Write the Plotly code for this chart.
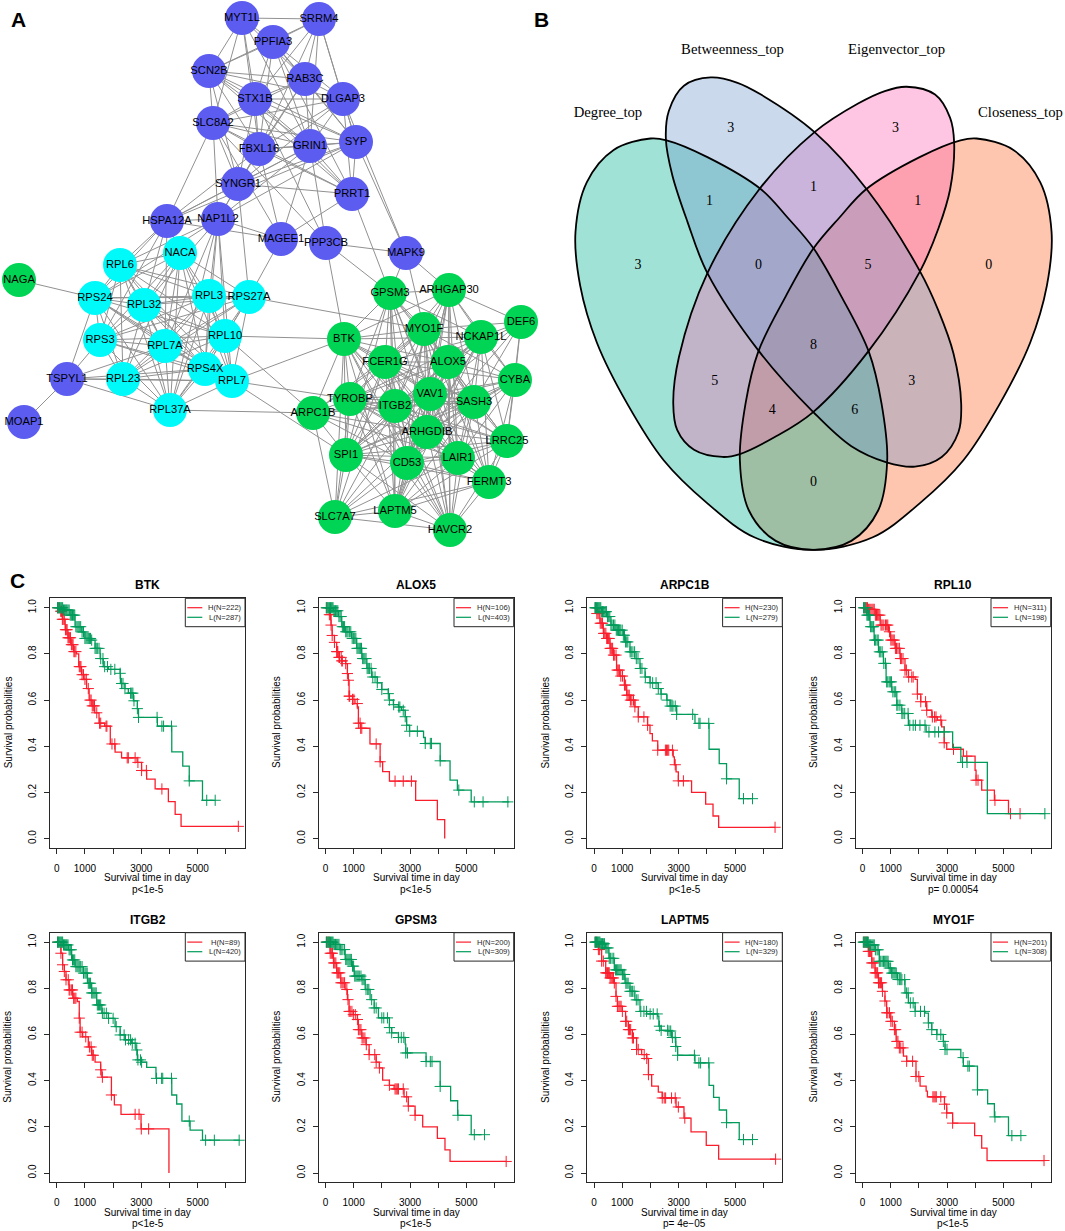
import plotly.graph_objects as go

# ---- panel A, network (page pixels)
genes_blue = ['MYT1L', 'SRRM4', 'PPFIA3', 'SCN2B', 'RAB3C', 'STX1B', 'DLGAP3', 'SLC8A2', 'FBXL16', 'GRIN1', 'SYP', 'SYNGR1', 'PRRT1', 'HSPA12A', 'NAP1L2', 'MAGEE1', 'PPP3CB', 'MAPK9', 'TSPYL1', 'MOAP1']
blue_x = [242, 319, 273, 209, 305, 255, 343, 213, 259, 310, 356, 238, 352, 167, 218, 281, 326, 406, 67, 24]
blue_y = [18, 19, 42, 71, 79, 99, 99, 123, 149, 146, 142, 184, 194, 221, 219, 239, 243, 253, 379, 422]

genes_cyan = ['NACA', 'RPL6', 'RPS24', 'RPL32', 'RPL3', 'RPS27A', 'RPL10', 'RPS3', 'RPL7A', 'RPS4X', 'RPL23', 'RPL7', 'RPL37A']
cyan_x = [180, 120, 95, 144, 209, 249, 225, 100, 165, 205, 123, 232, 170]
cyan_y = [253, 265, 298, 305, 296, 297, 336, 340, 346, 369, 379, 381, 410]

genes_green = ['NAGA', 'GPSM3', 'ARHGAP30', 'DEF6', 'MYO1F', 'NCKAP1L', 'BTK', 'FCER1G', 'ALOX5', 'CYBA', 'VAV1', 'TYROBP', 'ITGB2', 'SASH3', 'ARPC1B', 'ARHGDIB', 'LRRC25', 'SPI1', 'LAIR1', 'CD53', 'FERMT3', 'SLC7A7', 'LAPTM5', 'HAVCR2']
green_x = [19, 390, 449, 521, 424, 481, 344, 385, 448, 515, 430, 350, 395, 474, 313, 427, 507, 346, 458, 407, 489, 335, 395, 450]
green_y = [280, 293, 290, 322, 329, 337, 339, 362, 362, 380, 394, 399, 406, 402, 413, 432, 441, 455, 458, 463, 482, 517, 511, 530]

# first gene of each row is joined to the others in the row
edges_blue = [
	'MYT1L SRRM4 PPFIA3 SCN2B STX1B RAB3C SLC8A2 FBXL16 GRIN1',
	'SRRM4 PPFIA3 SCN2B STX1B RAB3C DLGAP3 FBXL16 SYP GRIN1',
	'PPFIA3 SCN2B RAB3C STX1B DLGAP3 FBXL16 GRIN1 SYP PRRT1',
	'SCN2B RAB3C STX1B DLGAP3 SLC8A2 FBXL16 GRIN1 SYP SYNGR1 PRRT1',
	'RAB3C STX1B DLGAP3 SLC8A2 FBXL16 GRIN1 SYP SYNGR1',
	'STX1B DLGAP3 SLC8A2 FBXL16 GRIN1 SYP SYNGR1 PRRT1 PPP3CB',
	'DLGAP3 SLC8A2 FBXL16 GRIN1 SYP SYNGR1 PRRT1 MAPK9',
	'SLC8A2 FBXL16 GRIN1 SYP SYNGR1 PRRT1 HSPA12A NAP1L2 MAGEE1 PPP3CB',
	'FBXL16 GRIN1 SYP SYNGR1 PRRT1 HSPA12A NAP1L2 MAGEE1',
	'GRIN1 SYP SYNGR1 PRRT1 NAP1L2 HSPA12A MAGEE1 PPP3CB',
	'SYP SYNGR1 PRRT1 MAPK9 HSPA12A NAP1L2',
	'SYNGR1 PRRT1 HSPA12A NAP1L2 RPS27A',
	'PRRT1 MAGEE1 GPSM3',
	'HSPA12A NAP1L2 MAGEE1 RPL6 RPS24 RPL32 RPS3 RPL7A NACA',
	'NAP1L2 MAGEE1 RPL6 RPS24 RPL32 RPL3 RPL7A RPL10 RPS4X RPL7 RPL37A',
	'MAGEE1 RPS27A',
	'PPP3CB MAPK9 GPSM3 BTK',
	'MAPK9 GPSM3 ARHGAP30 MYO1F',
	'TSPYL1 MOAP1 RPS24 RPS3 RPL7A RPL23 RPS4X RPL7 RPL37A',
]
edges_cyan = [
	'NACA RPL6 RPS24 RPL32 RPL3 RPS27A RPS3 RPL7A RPL10 RPS4X RPL23 RPL7 RPL37A',
	'RPL6 RPS24 RPL32 RPL3 RPS27A RPS3 RPL7A RPL10 RPS4X RPL23 RPL7 RPL37A',
	'RPS24 RPL32 RPL3 RPS27A RPS3 RPL7A RPL10 RPS4X RPL23 RPL7 RPL37A NAGA',
	'RPL32 RPL3 RPS27A RPS3 RPL7A RPL10 RPS4X RPL23 RPL7 RPL37A',
	'RPL3 RPS27A RPS3 RPL7A RPL10 RPS4X RPL23 RPL7 RPL37A',
	'RPS27A RPS3 RPL7A RPL10 RPS4X RPL23 RPL7 RPL37A MYO1F',
	'RPL10 RPS3 RPL7A RPS4X RPL23 RPL7 RPL37A BTK ARPC1B',
	'RPS3 RPL7A RPS4X RPL23 RPL7 RPL37A',
	'RPL7A RPS4X RPL23 RPL7 RPL37A',
	'RPS4X RPL23 RPL7 RPL37A',
	'RPL23 RPL7 RPL37A',
	'RPL7 RPL37A BTK TYROBP SPI1',
	'RPL37A ARPC1B',
]
edges_green = [
	'GPSM3 ARHGAP30 MYO1F NCKAP1L BTK FCER1G ALOX5 VAV1 TYROBP ITGB2 SASH3 ARHGDIB SPI1 LAIR1 CD53 LAPTM5',
	'ARHGAP30 DEF6 MYO1F NCKAP1L BTK FCER1G ALOX5 CYBA VAV1 ITGB2 SASH3 ARHGDIB LAIR1 CD53 LAPTM5 HAVCR2',
	'DEF6 MYO1F NCKAP1L ALOX5 CYBA VAV1 SASH3 ARHGDIB LRRC25',
	'MYO1F NCKAP1L BTK FCER1G ALOX5 CYBA VAV1 TYROBP ITGB2 SASH3 ARPC1B ARHGDIB LRRC25 SPI1 LAIR1 CD53 FERMT3 LAPTM5 HAVCR2',
	'NCKAP1L BTK FCER1G ALOX5 CYBA VAV1 TYROBP ITGB2 SASH3 ARHGDIB LRRC25 SPI1 LAIR1 CD53 FERMT3 LAPTM5',
	'BTK FCER1G ALOX5 VAV1 TYROBP ITGB2 SASH3 ARPC1B ARHGDIB SPI1 LAIR1 CD53 LAPTM5 SLC7A7 HAVCR2',
	'FCER1G ALOX5 CYBA VAV1 TYROBP ITGB2 SASH3 ARPC1B ARHGDIB LRRC25 SPI1 LAIR1 CD53 FERMT3 SLC7A7 LAPTM5 HAVCR2',
	'ALOX5 CYBA VAV1 TYROBP ITGB2 SASH3 ARHGDIB LRRC25 SPI1 LAIR1 CD53 FERMT3 LAPTM5 HAVCR2',
	'CYBA VAV1 ITGB2 SASH3 ARHGDIB LRRC25 SPI1 LAIR1 CD53 FERMT3',
	'VAV1 TYROBP ITGB2 SASH3 ARPC1B ARHGDIB LRRC25 SPI1 LAIR1 CD53 FERMT3 SLC7A7 LAPTM5 HAVCR2',
	'TYROBP ITGB2 SASH3 ARPC1B ARHGDIB LRRC25 SPI1 LAIR1 CD53 FERMT3 SLC7A7 LAPTM5 HAVCR2',
	'ITGB2 SASH3 ARPC1B ARHGDIB LRRC25 SPI1 LAIR1 CD53 FERMT3 SLC7A7 LAPTM5 HAVCR2',
	'SASH3 ARPC1B ARHGDIB LRRC25 SPI1 LAIR1 CD53 FERMT3 LAPTM5 HAVCR2',
	'ARPC1B ARHGDIB SPI1 CD53 LAIR1 SLC7A7',
	'ARHGDIB LRRC25 SPI1 LAIR1 CD53 FERMT3 SLC7A7 LAPTM5 HAVCR2',
	'LRRC25 SPI1 LAIR1 CD53 FERMT3 LAPTM5 HAVCR2',
	'SPI1 LAIR1 CD53 FERMT3 SLC7A7 LAPTM5 HAVCR2',
	'LAIR1 CD53 FERMT3 SLC7A7 LAPTM5 HAVCR2',
	'CD53 FERMT3 SLC7A7 LAPTM5 HAVCR2',
	'FERMT3 SLC7A7 LAPTM5 HAVCR2',
	'SLC7A7 LAPTM5 HAVCR2',
	'LAPTM5 HAVCR2',
]

# ---- panel B, outlines traced on the zoomed crop of the venn
green_loop_x = [660, 500, 378, 330, 220, 140, 106, 120, 170, 260, 370, 500, 640, 815, 930, 1010, 1037, 1020, 982, 900, 818, 740, 660]
green_loop_y = [530, 440, 393, 388, 420, 510, 650, 800, 960, 1130, 1290, 1410, 1505, 1540, 1515, 1430, 1290, 1130, 985, 830, 697, 610, 530]
blue_loop_x = [660, 590, 510, 430, 385, 376, 395, 440, 500, 655, 817, 930, 1035, 1120, 1200, 1250, 1258, 1235, 1190, 1135, 980, 820, 660]
blue_loop_y = [265, 232, 217, 240, 310, 390, 490, 620, 765, 985, 1155, 1250, 1295, 1307, 1280, 1210, 1130, 990, 870, 760, 535, 370, 265]
pink_loop_x = [950, 1030, 1095, 1180, 1225, 1237, 1225, 1190, 1135, 980, 815, 700, 597, 545, 460, 410, 398, 415, 500, 655, 820, 950]
pink_loop_y = [290, 255, 243, 265, 330, 400, 530, 640, 760, 985, 1155, 1225, 1272, 1280, 1260, 1205, 1130, 1000, 765, 530, 370, 290]
orange_loop_x = [974, 1134, 1256, 1304, 1414, 1494, 1528, 1514, 1464, 1374, 1264, 1134, 994, 819, 704, 624, 597, 614, 652, 734, 816, 894, 974]
orange_loop_y = [530, 440, 393, 388, 420, 510, 650, 800, 960, 1130, 1290, 1410, 1505, 1540, 1515, 1430, 1290, 1130, 985, 830, 697, 610, 530]

venn_names = ['Degree_top', 'Betweenness_top', 'Eigenvector_top', 'Closeness_top']
venn_name_x = [203, 575, 1065, 1435]
venn_name_y = [318, 140, 140, 318]
venn_counts = [3, 3, 3, 0, 1, 1, 1, 0, 5, 5, 8, 3, 4, 6, 0]
venn_count_x = [293, 570, 1062, 1340, 506, 817, 1128, 653, 980, 522, 817, 1110, 694, 940, 817]
venn_count_y = [745, 360, 360, 745, 565, 525, 565, 745, 745, 1070, 967, 1070, 1150, 1150, 1352]

# ---- panel C, survival curves: step vertices (t, s) and censor times
btk_h_t = [0, 100, 200, 300, 400, 500, 600, 700, 780, 880, 960, 1060, 1150, 1250, 1350, 1500, 1700, 1900, 1950, 2070, 2300, 2850, 3010, 3190, 3490, 3960, 4200, 4410, 6440]
btk_h_s = [1, .985, .95, .905, .87, .84, .81, .80, .745, .71, .69, .65, .60, .575, .545, .50, .487, .41, .41, .375, .35, .33, .295, .258, .215, .16, .105, .053, .053]
btk_h_c = [40, 90, 140, 170, 200, 230, 270, 310, 340, 370, 400, 430, 460, 490, 520, 550, 580, 610, 640, 680, 800, 830, 860, 900, 950, 1000, 1050, 1120, 1180, 1220, 1260, 1300, 1340, 1420, 1520, 1560, 1750, 1780, 1960, 2060, 2500, 2540, 2780, 2880, 3010, 3180, 3730, 6440]
btk_l_t = [0, 240, 470, 650, 890, 1000, 1240, 1360, 1540, 1650, 1830, 2250, 2260, 2420, 2540, 2720, 2860, 2900, 3570, 4080, 4470, 4700, 5170, 5610]
btk_l_s = [1, .99, .968, .918, .895, .867, .86, .824, .78, .745, .733, .716, .672, .65, .63, .597, .563, .525, .487, .376, .314, .25, .166, .166]
btk_l_c = [30, 60, 90, 120, 150, 180, 210, 240, 270, 300, 330, 360, 400, 440, 480, 520, 560, 600, 640, 680, 720, 760, 800, 850, 900, 950, 1000, 1040, 1080, 1120, 1160, 1200, 1240, 1360, 1400, 1440, 1500, 1560, 1640, 1700, 1800, 1920, 2060, 2250, 2300, 2350, 2420, 2620, 2660, 2700, 2740, 2860, 2900, 3560, 3730, 3790, 4070, 4700, 5320, 5620]

alox5_h_t = [0, 140, 200, 240, 320, 400, 480, 580, 720, 780, 815, 840, 960, 1050, 1135, 1170, 1250, 1580, 1940, 2030, 2270, 3200, 3970, 4230, 4230]
alox5_h_s = [1, .97, .925, .88, .85, .81, .785, .77, .758, .715, .686, .617, .603, .585, .571, .50, .478, .41, .333, .29, .249, .166, .082, .082, 0]
alox5_h_c = [50, 140, 180, 200, 240, 320, 400, 420, 440, 480, 500, 560, 580, 600, 720, 780, 815, 840, 860, 960, 1010, 1130, 1170, 1230, 1250, 1290, 1800, 1940, 2470, 2760, 3050]
alox5_l_t = [0, 280, 460, 580, 700, 930, 1110, 1290, 1470, 1640, 1840, 2000, 2230, 2270, 2410, 2590, 2700, 2830, 2880, 2980, 3480, 3540, 4070, 4420, 4680, 5170, 6520]
alox5_l_s = [1, .987, .962, .918, .896, .867, .824, .78, .737, .70, .675, .646, .628, .60, .58, .57, .556, .528, .491, .465, .438, .412, .337, .253, .21, .159, .159]
alox5_l_c = [30, 60, 90, 120, 150, 180, 210, 240, 270, 300, 330, 360, 400, 440, 480, 520, 560, 600, 640, 680, 720, 760, 800, 850, 900, 950, 1000, 1040, 1080, 1120, 1160, 1200, 1240, 1280, 1320, 1360, 1400, 1440, 1480, 1520, 1560, 1620, 1680, 1760, 1840, 2000, 2230, 2270, 2420, 2600, 2640, 2760, 2830, 2880, 2990, 3260, 3540, 3720, 3760, 4070, 4730, 5280, 5590, 6470]

arpc1b_h_t = [0, 95, 210, 330, 450, 570, 685, 800, 920, 1075, 1160, 1275, 1450, 1570, 1900, 1985, 2070, 2260, 2810, 2850, 2910, 2990, 3170, 3460, 3960, 4220, 4420, 6420]
arpc1b_h_s = [1, .975, .933, .889, .867, .824, .795, .73, .704, .665, .621, .60, .571, .527, .491, .455, .423, .383, .354, .32, .289, .25, .25, .20, .149, .098, .049, .049]
arpc1b_h_c = [60, 100, 140, 180, 220, 260, 300, 340, 380, 420, 450, 480, 510, 540, 570, 600, 630, 660, 690, 720, 780, 820, 860, 900, 950, 1010, 1080, 1120, 1170, 1210, 1250, 1290, 1340, 1400, 1450, 1570, 1770, 1900, 2260, 2530, 2570, 2610, 2650, 2780, 2880, 2990, 3170, 6420]
arpc1b_l_t = [0, 270, 450, 600, 745, 1040, 1100, 1275, 1450, 1630, 1810, 1985, 2280, 2375, 2580, 2700, 2930, 3580, 4080, 4440, 4700, 5150, 5590]
arpc1b_l_s = [1, .983, .962, .925, .903, .881, .852, .809, .78, .737, .70, .675, .65, .626, .60, .574, .538, .499, .387, .325, .259, .173, .173]
arpc1b_l_c = [30, 60, 90, 120, 150, 180, 210, 240, 270, 300, 330, 360, 400, 440, 480, 520, 560, 600, 640, 690, 740, 790, 830, 870, 910, 950, 1000, 1040, 1080, 1120, 1160, 1200, 1280, 1320, 1380, 1440, 1500, 1560, 1640, 1700, 1820, 1990, 2080, 2200, 2280, 2380, 2590, 2700, 2760, 2800, 2880, 2930, 3500, 3720, 3760, 4070, 4700, 5300, 5620]

rpl10_h_t = [0, 210, 450, 630, 920, 1000, 1160, 1335, 1510, 1630, 1870, 1950, 2070, 2280, 2460, 2660, 2810, 2900, 2990, 3580, 3995, 4030, 4230, 4680, 5180, 5590]
rpl10_h_s = [1, .993, .968, .925, .896, .86, .824, .78, .73, .70, .69, .626, .593, .556, .527, .513, .484, .415, .387, .357, .296, .253, .21, .166, .108, .108]
rpl10_h_c = [60, 100, 140, 180, 220, 260, 300, 340, 380, 420, 460, 500, 540, 580, 620, 660, 700, 760, 820, 860, 900, 960, 1010, 1050, 1090, 1130, 1170, 1210, 1260, 1310, 1350, 1390, 1440, 1510, 1560, 1640, 1750, 1800, 1950, 2070, 2240, 2280, 2480, 2560, 2610, 2780, 2900, 3230, 3700, 4030, 4100, 4700, 5250, 5590]
rpl10_l_t = [0, 155, 270, 415, 570, 745, 840, 1040, 1220, 1395, 1630, 2260, 3200, 3490, 4430, 6480]
rpl10_l_s = [1, .968, .918, .86, .809, .759, .679, .636, .578, .542, .491, .462, .395, .33, .108, .108]
rpl10_l_c = [40, 80, 120, 160, 190, 220, 250, 290, 330, 370, 400, 430, 470, 520, 560, 600, 650, 700, 760, 820, 860, 900, 950, 990, 1030, 1080, 1130, 1180, 1220, 1260, 1330, 1400, 1440, 1500, 1620, 1680, 1800, 1880, 2040, 2220, 2360, 2570, 2700, 2900, 3550, 3710, 6470]

itgb2_h_t = [0, 150, 210, 270, 330, 440, 570, 730, 800, 830, 920, 1120, 1240, 1360, 1560, 1600, 1940, 2045, 2280, 2990, 3980, 3980]
itgb2_h_s = [1, .952, .902, .873, .837, .793, .757, .743, .671, .61, .59, .546, .51, .48, .447, .415, .338, .295, .254, .191, .191, 0]
itgb2_h_c = [40, 150, 210, 270, 330, 410, 440, 470, 530, 560, 600, 640, 680, 800, 830, 900, 1030, 1160, 1220, 1260, 1300, 1560, 1620, 1940, 2780, 2920, 3000, 3260]
itgb2_l_t = [0, 240, 410, 530, 650, 945, 1090, 1240, 1420, 1600, 1830, 2070, 2250, 2420, 2660, 2810, 2860, 3010, 3190, 3520, 4080, 4255, 4440, 4730, 5170, 6500]
itgb2_l_s = [1, .988, .967, .923, .894, .866, .822, .78, .728, .692, .67, .634, .598, .577, .562, .533, .49, .48, .458, .41, .338, .299, .225, .186, .142, .142]
itgb2_l_c = [30, 60, 90, 120, 150, 180, 210, 240, 270, 300, 330, 360, 400, 440, 480, 520, 560, 600, 640, 680, 720, 760, 800, 850, 900, 950, 1000, 1040, 1080, 1120, 1160, 1200, 1240, 1280, 1320, 1360, 1400, 1440, 1480, 1520, 1560, 1620, 1680, 1760, 1840, 2000, 2110, 2250, 2390, 2440, 2550, 2620, 2680, 2780, 2840, 2880, 2970, 3010, 3540, 3720, 3760, 4070, 4700, 5280, 5590, 6470]

gpsm3_h_t = [0, 165, 285, 400, 545, 700, 780, 840, 990, 1135, 1170, 1290, 1440, 1550, 1800, 1915, 2030, 2270, 2435, 2790, 2880, 2940, 3180, 3450, 3970, 4240, 4420, 6410]
gpsm3_h_s = [1, .952, .91, .867, .824, .795, .751, .70, .686, .665, .621, .585, .556, .513, .48, .455, .402, .38, .364, .33, .33, .29, .25, .20, .15, .10, .05, .05]
gpsm3_h_c = [40, 90, 130, 170, 210, 250, 290, 330, 370, 410, 440, 470, 510, 550, 590, 630, 680, 760, 800, 840, 880, 940, 990, 1060, 1135, 1170, 1220, 1260, 1300, 1340, 1400, 1450, 1550, 1750, 1800, 1915, 2270, 2470, 2510, 2550, 2590, 2760, 2880, 2940, 3180, 6410]
gpsm3_l_t = [0, 280, 520, 700, 930, 1020, 1290, 1410, 1585, 1730, 1880, 2270, 2350, 2590, 2830, 2850, 3570, 4070, 4440, 4690, 5170, 5540]
gpsm3_l_s = [1, .99, .968, .925, .896, .853, .838, .795, .751, .715, .672, .63, .607, .587, .558, .52, .483, .375, .313, .25, .166, .166]
gpsm3_l_c = [30, 60, 90, 120, 150, 180, 210, 240, 270, 300, 330, 360, 400, 440, 480, 520, 560, 620, 680, 720, 760, 800, 840, 880, 920, 960, 1000, 1040, 1080, 1120, 1160, 1200, 1260, 1300, 1340, 1400, 1440, 1500, 1540, 1640, 1730, 1800, 2000, 2070, 2200, 2270, 2350, 2590, 2690, 2780, 2850, 2910, 3570, 3720, 3780, 4070, 4700, 5280, 5640]

laptm5_h_t = [0, 155, 270, 415, 570, 720, 780, 830, 1005, 1120, 1220, 1360, 1510, 1690, 1870, 1930, 2045, 2280, 2420, 2910, 3190, 3440, 3980, 4420, 6440]
laptm5_h_s = [1, .968, .918, .867, .845, .823, .765, .722, .70, .657, .621, .585, .535, .513, .496, .426, .376, .35, .325, .286, .238, .178, .12, .06, .06]
laptm5_h_c = [50, 100, 155, 200, 270, 330, 415, 450, 480, 510, 540, 570, 610, 650, 690, 720, 780, 830, 880, 920, 960, 1005, 1120, 1160, 1220, 1260, 1300, 1360, 1400, 1510, 1570, 1780, 1870, 1930, 2420, 2490, 2540, 2750, 2880, 2990, 3220, 6440]
laptm5_l_t = [0, 215, 415, 530, 720, 1005, 1100, 1275, 1450, 1630, 1870, 2260, 2300, 2380, 2640, 2750, 2900, 2965, 3580, 4080, 4240, 4440, 4700, 5150, 5590]
laptm5_l_s = [1, .993, .975, .93, .88, .86, .822, .787, .75, .70, .689, .68, .636, .618, .615, .587, .548, .51, .477, .38, .328, .273, .218, .145, .145]
laptm5_l_c = [30, 60, 90, 120, 150, 180, 210, 240, 270, 300, 330, 370, 420, 460, 500, 540, 580, 640, 700, 760, 800, 840, 880, 920, 960, 1005, 1040, 1090, 1130, 1170, 1210, 1275, 1320, 1360, 1420, 1500, 1560, 1660, 1770, 1860, 1990, 2100, 2240, 2320, 2380, 2610, 2660, 2720, 2780, 2880, 2900, 2965, 3560, 3720, 3780, 4070, 4700, 5300, 5620]

myo1f_h_t = [0, 210, 330, 450, 570, 710, 800, 860, 1005, 1135, 1195, 1310, 1455, 1570, 1900, 2045, 2260, 2305, 2910, 2990, 3200, 3980, 4230, 4420, 6440]
myo1f_h_s = [1, .96, .91, .867, .824, .787, .745, .694, .657, .621, .57, .542, .506, .484, .418, .376, .355, .33, .298, .26, .216, .162, .108, .054, .054]
myo1f_h_c = [50, 90, 130, 170, 210, 250, 290, 330, 370, 410, 450, 480, 510, 540, 570, 600, 640, 680, 710, 800, 860, 900, 960, 1010, 1060, 1135, 1180, 1220, 1260, 1310, 1360, 1440, 1570, 1780, 1900, 2000, 2500, 2540, 2580, 2620, 2780, 2910, 2990, 3200, 6440]
myo1f_l_t = [0, 215, 450, 600, 920, 1040, 1240, 1510, 1630, 1870, 2220, 2340, 2460, 2640, 2870, 2930, 3490, 3580, 4080, 4440, 4680, 5180, 5590]
myo1f_l_s = [1, .988, .967, .917, .888, .866, .838, .78, .737, .70, .693, .65, .621, .60, .57, .535, .50, .463, .36, .30, .243, .162, .162]
myo1f_l_c = [30, 60, 90, 120, 150, 180, 210, 240, 270, 300, 340, 380, 420, 460, 520, 560, 600, 650, 700, 750, 790, 830, 870, 910, 950, 1000, 1040, 1080, 1120, 1160, 1200, 1260, 1320, 1360, 1400, 1500, 1560, 1620, 1700, 1800, 1870, 2060, 2200, 2340, 2460, 2640, 2780, 2870, 2930, 3000, 3570, 3740, 3790, 4080, 4700, 5300, 5620]

titles = ['BTK', 'ALOX5', 'ARPC1B', 'RPL10', 'ITGB2', 'GPSM3', 'LAPTM5', 'MYO1F']
high_labels = ['H(N=222)', 'H(N=106)', 'H(N=230)', 'H(N=311)', 'H(N=89)', 'H(N=200)', 'H(N=180)', 'H(N=201)']
low_labels = ['L(N=287)', 'L(N=403)', 'L(N=279)', 'L(N=198)', 'L(N=420)', 'L(N=309)', 'L(N=329)', 'L(N=308)']
p_labels = ['p<1e-5', 'p<1e-5', 'p<1e-5', 'p= 0.00054', 'p<1e-5', 'p<1e-5', 'p= 4e\u221205', 'p<1e-5']

curves = [
	(btk_h_t, btk_h_s, btk_h_c, btk_l_t, btk_l_s, btk_l_c),
	(alox5_h_t, alox5_h_s, alox5_h_c, alox5_l_t, alox5_l_s, alox5_l_c),
	(arpc1b_h_t, arpc1b_h_s, arpc1b_h_c, arpc1b_l_t, arpc1b_l_s, arpc1b_l_c),
	(rpl10_h_t, rpl10_h_s, rpl10_h_c, rpl10_l_t, rpl10_l_s, rpl10_l_c),
	(itgb2_h_t, itgb2_h_s, itgb2_h_c, itgb2_l_t, itgb2_l_s, itgb2_l_c),
	(gpsm3_h_t, gpsm3_h_s, gpsm3_h_c, gpsm3_l_t, gpsm3_l_s, gpsm3_l_c),
	(laptm5_h_t, laptm5_h_s, laptm5_h_c, laptm5_l_t, laptm5_l_s, laptm5_l_c),
	(myo1f_h_t, myo1f_h_s, myo1f_h_c, myo1f_l_t, myo1f_l_s, myo1f_l_c),
]

W, H = 1065, 1231
SANS = 'Liberation Sans'
SERIF = 'Liberation Serif'
RED = 'rgb(250,30,45)'
GREEN = 'rgb(0,155,90)'

box_left = [50, 318.7, 587.3, 855.7]
box_top = [598.3, 932.7]
BOX_W, BOX_H = 195, 249.3


# the venn crop came back scaled differently in x and y
def venn_x(v):
	return [540 + i * 0.3348 for i in v]


def venn_y(v):
	return [i * 0.357 for i in v]


def step_at(t, ts, ss):
	s = ss[0]
	for a, b in zip(ts, ss):
		if a <= t:
			s = b
	return s


fig = go.Figure()

# network edges first so the nodes sit on top
pos = {}
for names, xs, ys in [(genes_blue, blue_x, blue_y), (genes_cyan, cyan_x, cyan_y), (genes_green, green_x, green_y)]:
	for n, a, b in zip(names, xs, ys):
		pos[n] = (a, b)

edge_x, edge_y = [], []
for row in edges_blue + edges_cyan + edges_green:
	first, *others = row.split()
	for other in others:
		edge_x += [pos[first][0], pos[other][0], None]
		edge_y += [pos[first][1], pos[other][1], None]
fig.add_trace(go.Scatter(x = edge_x, y = edge_y, mode = 'lines', line = dict(color = 'rgb(145,145,145)', width = 1), hoverinfo = 'skip'))

for names, xs, ys, col in [(genes_blue, blue_x, blue_y, 'rgb(92,92,240)'), (genes_cyan, cyan_x, cyan_y, 'rgb(0,250,250)'), (genes_green, green_x, green_y, 'rgb(0,212,85)')]:
	fig.add_trace(go.Scatter(x = xs, y = ys, mode = 'markers', marker = dict(size = 34, color = col, line = dict(width = 0))))
for names, xs, ys in [(genes_blue, blue_x, blue_y), (genes_cyan, cyan_x, cyan_y), (genes_green, green_x, green_y)]:
	fig.add_trace(go.Scatter(x = xs, y = ys, mode = 'text', text = names, textposition = 'middle center', textfont = dict(family = SANS, size = 11.2, color = 'black')))

# venn fills, then the outlines over them. fill order picked from the overlap colours
loops = [
	(orange_loop_x, orange_loop_y, 'rgba(252,110,55,0.4)'),
	(green_loop_x, green_loop_y, 'rgba(17,182,150,0.4)'),
	(pink_loop_x, pink_loop_y, 'rgba(252,97,177,0.36)'),
	(blue_loop_x, blue_loop_y, 'rgba(110,150,205,0.36)'),
]
for lx, ly, col in loops:
	fig.add_trace(go.Scatter(x = venn_x(lx), y = venn_y(ly), mode = 'lines', fill = 'toself', fillcolor = col, line = dict(shape = 'spline', width = 0, color = 'rgba(0,0,0,0)'), hoverinfo = 'skip'))
for lx, ly, col in loops:
	fig.add_trace(go.Scatter(x = venn_x(lx), y = venn_y(ly), mode = 'lines', line = dict(shape = 'spline', width = 1.8, color = 'black'), hoverinfo = 'skip'))
fig.add_trace(go.Scatter(x = venn_x(venn_name_x), y = venn_y(venn_name_y), mode = 'text', text = venn_names, textfont = dict(family = SERIF, size = 14.7, color = 'black')))
fig.add_trace(go.Scatter(x = venn_x(venn_count_x), y = venn_y(venn_count_y), mode = 'text', text = venn_counts, textfont = dict(family = SERIF, size = 14, color = 'black')))

annotations = []
shapes = []


def note(x, y, text, size = 10, color = 'black', bold = False, angle = 0):
	annotations.append(dict(
		x = x, y = y, xref = 'x', yref = 'y', text = '<b>' + text + '</b>' if bold else text,
		showarrow = False, textangle = angle, xanchor = 'center', yanchor = 'middle',
		font = dict(family = SANS, size = size, color = color)
	))


note(18, 19, 'A', size = 21, bold = True)
note(541, 19, 'B', size = 21, bold = True)
note(17, 580, 'C', size = 21, bold = True)

axes = {}
for i in range(8):
	left = box_left[i % 4]
	top = box_top[i // 4]
	xname, yname = 'x' + str(i + 2), 'y' + str(i + 2)
	hs_t, hs_s, h_c, ls_t, ls_s, l_c = curves[i]

	fig.add_trace(go.Scatter(x = hs_t, y = hs_s, mode = 'lines', line = dict(shape = 'hv', color = RED, width = 1.3), xaxis = xname, yaxis = yname))
	fig.add_trace(go.Scatter(x = h_c, y = [step_at(t, hs_t, hs_s) for t in h_c], mode = 'markers', marker = dict(symbol = 'cross-thin', size = 8, line = dict(width = 1, color = RED)), xaxis = xname, yaxis = yname))
	fig.add_trace(go.Scatter(x = ls_t, y = ls_s, mode = 'lines', line = dict(shape = 'hv', color = GREEN, width = 1.3), xaxis = xname, yaxis = yname))
	fig.add_trace(go.Scatter(x = l_c, y = [step_at(t, ls_t, ls_s) for t in l_c], mode = 'markers', marker = dict(symbol = 'cross-thin', size = 8, line = dict(width = 1, color = GREEN)), xaxis = xname, yaxis = yname))

	axes['xaxis' + str(i + 2)] = dict(
		domain = [left / W, (left + BOX_W) / W], anchor = yname, range = [-238, 6677],
		showline = True, mirror = True, linecolor = 'rgb(40,40,40)', linewidth = 1, showgrid = False, zeroline = False,
		ticks = 'outside', ticklen = 5, tickcolor = 'rgb(40,40,40)', tickwidth = 1, ticklabelstandoff = 6,
		tickvals = [0, 1000, 2000, 3000, 4000, 5000, 6000], ticktext = ['0', '1000', '', '3000', '', '5000', ''],
		tickfont = dict(family = SANS, size = 10, color = 'black')
	)
	axes['yaxis' + str(i + 2)] = dict(
		domain = [1 - (top + BOX_H) / H, 1 - top / H], anchor = xname, range = [-0.039, 1.041],
		showline = True, mirror = True, linecolor = 'rgb(40,40,40)', linewidth = 1, showgrid = False, zeroline = False,
		ticks = 'outside', ticklen = 5, tickcolor = 'rgb(40,40,40)', tickwidth = 1, ticklabelstandoff = 4, tickangle = -90,
		tickvals = [0, 0.2, 0.4, 0.6, 0.8, 1.0], ticktext = ['0.0', '0.2', '0.4', '0.6', '0.8', '1.0'],
		tickfont = dict(family = SANS, size = 10, color = 'black')
	)

	mid = left + BOX_W / 2
	note(mid, top - 13, titles[i], size = 12, bold = True)
	note(mid, top + 279.5, 'Survival time in day')
	note(mid, top + 291, p_labels[i])
	note(left - 42, top + 124, 'Survival probabilities', angle = -90)

	# little legend in the top right corner
	shapes.append(dict(type = 'rect', xref = 'x', yref = 'y', x0 = left + BOX_W - 59.7, x1 = left + BOX_W, y0 = top, y1 = top + 28.4, fillcolor = 'white', line = dict(color = 'rgb(40,40,40)', width = 1), layer = 'above'))
	shapes.append(dict(type = 'line', xref = 'x', yref = 'y', x0 = left + BOX_W - 57.7, x1 = left + BOX_W - 42.7, y0 = top + 9.4, y1 = top + 9.4, line = dict(color = RED, width = 1.2), layer = 'above'))
	shapes.append(dict(type = 'line', xref = 'x', yref = 'y', x0 = left + BOX_W - 57.7, x1 = left + BOX_W - 42.7, y0 = top + 19, y1 = top + 19, line = dict(color = GREEN, width = 1.2), layer = 'above'))
	note(left + BOX_W - 20, top + 9.4, high_labels[i], size = 7.6, color = 'rgb(40,40,40)')
	note(left + BOX_W - 20, top + 19, low_labels[i], size = 7.6, color = 'rgb(40,40,40)')

fig.update_layout(
	width = W,
	height = H,
	margin = dict(l = 0, r = 0, t = 0, b = 0),
	paper_bgcolor = 'white',
	plot_bgcolor = 'rgba(0,0,0,0)',
	showlegend = False,
	hovermode = False,
	xaxis = dict(domain = [0, 1], range = [0, W], visible = False, fixedrange = True),
	yaxis = dict(domain = [0, 1], range = [H, 0], visible = False, fixedrange = True),
	annotations = annotations,
	shapes = shapes,
	**axes
)

fig.write_html("out.html", config = dict(displayModeBar = False), post_script = "document.body.style.margin = '0'; document.body.style.overflow = 'hidden';")
